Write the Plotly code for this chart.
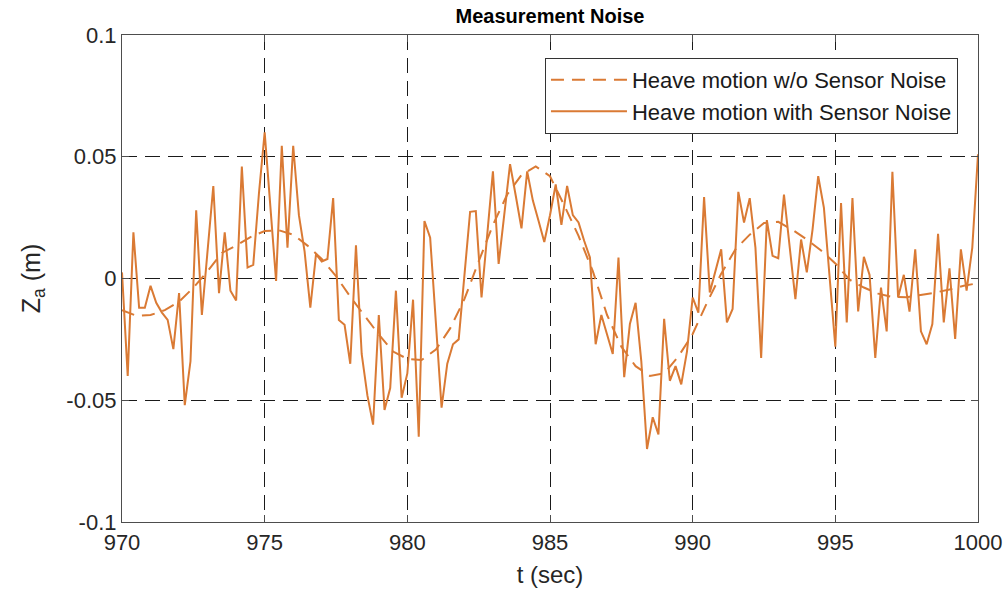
import plotly.graph_objects as go

# Noisy heave measurement, sampled every 0.2 s from 970 to 1000 s
t_start = 970.0
dt_noisy = 0.2
z_noisy = [
    0.0025, -0.040, 0.019, -0.012, -0.012, -0.003, -0.010, -0.014, -0.017, -0.029,
    -0.006, -0.052, -0.034, 0.028, -0.015, 0.012, 0.038, -0.006, 0.019, -0.005,
    -0.009, 0.046, 0.0045, 0.0056, 0.035, 0.060, 0.029, -0.001, 0.0545, 0.0127,
    0.0545, 0.026, 0.011, -0.012, 0.010, 0.007, 0.008, 0.033, -0.017, -0.019,
    -0.035, 0.0136, -0.031, -0.048, -0.060, -0.015, -0.054, -0.045, -0.005, -0.049,
    -0.039, -0.0087, -0.065, 0.0236, 0.0168, -0.017, -0.053, -0.035, -0.027, -0.025,
    0.002, 0.0274, 0.0277, -0.0078, 0.018, 0.044, 0.006, 0.026, 0.047, 0.034,
    0.0206, 0.044, 0.032, 0.0236, 0.015, 0.026, 0.0386, 0.022, 0.038, 0.026,
    0.023, 0.0154, 0.0086, -0.027, -0.015, -0.023, -0.031, 0.0086, -0.0405, -0.0187,
    -0.010, -0.034, -0.070, -0.057, -0.064, -0.0166, -0.042, -0.036, -0.0435, -0.030,
    -0.0078, -0.014, 0.0334, -0.0057, 0.003, 0.012, -0.018, -0.0125, 0.0356, 0.023,
    0.033, 0.0127, -0.0326, 0.024, 0.0093, 0.0083, 0.0345, 0.0127, -0.0085, 0.016,
    0.0025, 0.020, 0.042, 0.029, 0.0, -0.028, 0.031, -0.018, 0.033, -0.0135,
    0.0089, 0.0015, -0.0326, -0.0037, -0.0217, 0.0438, -0.0078, 0.0015, -0.0136, 0.012,
    -0.0217, -0.027, -0.0187, 0.0184, -0.018, 0.0042, -0.0248, 0.012, -0.005, 0.0127,
    0.051,
]
t_noisy = [round(t_start + dt_noisy * i, 3) for i in range(len(z_noisy))]

# Clean heave motion, read every 0.5 s
dt_clean = 0.5
z_clean = [
    -0.013, -0.0153, -0.015, -0.013, -0.0095, -0.0038, 0.003, 0.0105, 0.0135, 0.017,
    0.0195, 0.0198, 0.018, 0.0135, 0.008, 0.001, -0.0075, -0.0155, -0.023, -0.030,
    -0.033, -0.0335, -0.0292, -0.0205, -0.0085, 0.007, 0.022, 0.0345, 0.0425, 0.046,
    0.042, 0.030, 0.0175, 0.003, -0.015, -0.028, -0.036, -0.040, -0.039, -0.032,
    -0.0228, -0.010, 0.002, 0.012, 0.018, 0.0228, 0.0233, 0.020, 0.016, 0.0115,
    0.0062, -0.0005, -0.0037, -0.0062, -0.0076, -0.0077, -0.0069, -0.0058, -0.0045, -0.003,
    -0.0019,
]
t_clean = [round(t_start + dt_clean * i, 3) for i in range(len(z_clean))]

x_ticks = [970, 975, 980, 985, 990, 995, 1000]
y_ticks = [-0.1, -0.05, 0, 0.05, 0.1]
y_tick_text = ["-0.1", "-0.05", "0", "0.05", "0.1"]

orange = "#DA7A34"
font_family = "Liberation Sans, Arial, Helvetica, sans-serif"

fig = go.Figure()
fig.add_trace(go.Scatter(
    x=t_clean, y=z_clean, mode="lines",
    name="Heave motion w/o Sensor Noise",
    line=dict(color=orange, width=2, dash="13px,8px"),
))
fig.add_trace(go.Scatter(
    x=t_noisy, y=z_noisy, mode="lines",
    name="Heave motion with Sensor Noise",
    line=dict(color=orange, width=2),
))

axis_common = dict(
    showline=True, linecolor="#4d4d4d", linewidth=1.2, mirror="ticks",
    ticks="inside", ticklen=7, tickcolor="#4d4d4d",
    showgrid=True, gridcolor="#1a1a1a", gridwidth=1.4, griddash="15px,8px",
    zeroline=False, automargin=False,
    tickfont=dict(family=font_family, size=22, color="#262626"),
)

fig.update_layout(
    width=1008, height=601,
    margin=dict(l=122, r=30, t=35, b=79),
    paper_bgcolor="white", plot_bgcolor="white",
    title=dict(
        text="<b>Measurement Noise</b>",
        x=(122 + 978) / 2 / 1008, xanchor="center",
        y=1 - 16 / 601, yanchor="middle",
        font=dict(family=font_family, size=20, color="black"),
    ),
    xaxis=dict(
        range=[970, 1000], tickvals=x_ticks,
        title=dict(text="t (sec)", font=dict(family=font_family, size=24, color="#262626"), standoff=12),
        **axis_common,
    ),
    yaxis=dict(
        range=[-0.1, 0.1], tickvals=y_ticks, ticktext=y_tick_text,
        title=dict(text="Z<sub>a</sub> (m)", font=dict(family=font_family, size=25, color="#262626"), standoff=18),
        **axis_common,
    ),
    legend=dict(
        x=0.9766, y=0.953, xanchor="right", yanchor="top",
        bgcolor="white", bordercolor="#333333", borderwidth=1,
        font=dict(family=font_family, size=22, color="#1a1a1a"),
        itemwidth=76, tracegroupgap=0,
    ),
    showlegend=True,
)

fig.write_html("out.html")
